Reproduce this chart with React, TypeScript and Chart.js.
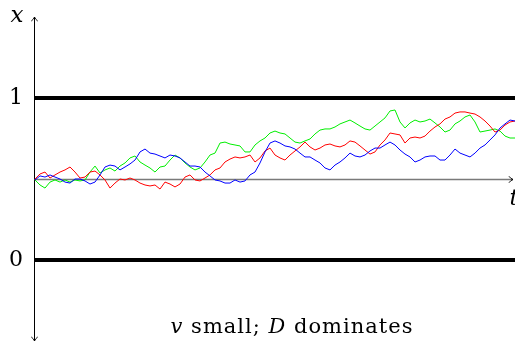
import React, { useEffect, useRef } from "react";
import { Chart, registerables } from "chart.js";

Chart.register(...registerables);

// time steps (unlabelled t axis), one sample per step
const timeSteps: number[] = Array.from({ length: 97 }, (_, i) => i);

const redPath: number[] = [
  0.5, 0.531, 0.543, 0.506, 0.525, 0.543, 0.556, 0.574, 0.543, 0.506,
  0.512, 0.543, 0.549, 0.525, 0.494, 0.444, 0.475, 0.5, 0.494, 0.506,
  0.494, 0.475, 0.463, 0.457, 0.463, 0.438, 0.481, 0.469, 0.451, 0.469,
  0.512, 0.525, 0.494, 0.488, 0.506, 0.525, 0.556, 0.568, 0.605, 0.623,
  0.636, 0.63, 0.636, 0.648, 0.605, 0.63, 0.673, 0.691, 0.648, 0.63,
  0.617, 0.648, 0.673, 0.698, 0.728, 0.698, 0.679, 0.691, 0.71, 0.716,
  0.704, 0.698, 0.71, 0.735, 0.728, 0.704, 0.679, 0.654, 0.667, 0.71,
  0.741, 0.784, 0.778, 0.772, 0.722, 0.753, 0.759, 0.753, 0.765, 0.796,
  0.821, 0.84, 0.87, 0.883, 0.907, 0.914, 0.914, 0.907, 0.901, 0.883,
  0.858, 0.827, 0.79, 0.802, 0.833, 0.852, 0.858,
];

const greenPath: number[] = [
  0.494, 0.463, 0.444, 0.481, 0.494, 0.481, 0.494, 0.481, 0.494, 0.488,
  0.494, 0.543, 0.58, 0.537, 0.556, 0.568, 0.549, 0.58, 0.599, 0.63,
  0.642, 0.605, 0.586, 0.568, 0.543, 0.574, 0.58, 0.617, 0.648, 0.63,
  0.599, 0.574, 0.556, 0.568, 0.605, 0.648, 0.66, 0.722, 0.728, 0.716,
  0.71, 0.704, 0.667, 0.667, 0.71, 0.735, 0.753, 0.784, 0.796, 0.784,
  0.778, 0.753, 0.728, 0.722, 0.735, 0.747, 0.778, 0.802, 0.809, 0.809,
  0.821, 0.84, 0.852, 0.864, 0.846, 0.827, 0.809, 0.802, 0.827, 0.852,
  0.877, 0.92, 0.926, 0.852, 0.815, 0.846, 0.864, 0.852, 0.858, 0.87,
  0.846, 0.821, 0.79, 0.802, 0.84, 0.858, 0.883, 0.895, 0.852, 0.79,
  0.796, 0.802, 0.809, 0.796, 0.765, 0.753, 0.753,
];

const bluePath: number[] = [
  0.494, 0.519, 0.512, 0.525, 0.512, 0.5, 0.481, 0.475, 0.5, 0.5,
  0.488, 0.469, 0.481, 0.525, 0.574, 0.586, 0.58, 0.556, 0.574, 0.593,
  0.617, 0.667, 0.685, 0.66, 0.654, 0.642, 0.63, 0.648, 0.642, 0.63,
  0.605, 0.58, 0.58, 0.574, 0.543, 0.519, 0.494, 0.488, 0.475, 0.475,
  0.494, 0.481, 0.488, 0.525, 0.543, 0.599, 0.667, 0.722, 0.735, 0.722,
  0.704, 0.698, 0.685, 0.66, 0.636, 0.636, 0.617, 0.599, 0.568, 0.556,
  0.586, 0.605, 0.63, 0.66, 0.642, 0.636, 0.648, 0.673, 0.691, 0.691,
  0.71, 0.728, 0.71, 0.679, 0.654, 0.636, 0.605, 0.617, 0.636, 0.642,
  0.642, 0.617, 0.617, 0.648, 0.685, 0.66, 0.648, 0.636, 0.66, 0.691,
  0.71, 0.741, 0.772, 0.815, 0.84, 0.864, 0.858,
];

const boundaryLevels: number[] = [0, 1];
const tAxisLevel = 0.5;
const yRange: number[] = [-0.5, 1.5];
const yTickLabels: string[] = ["0", "1"];
const axisLabelX = "x";
const axisLabelT = "t";
const captionParts: { text: string; italic: boolean }[] = [
  { text: "v", italic: true },
  { text: " small; ", italic: false },
  { text: "D", italic: true },
  { text: " dominates", italic: false },
];

const FAMILY = "DejaVu Serif";
const SERIF = `"${FAMILY}", serif`;

function arrowHead(ctx: CanvasRenderingContext2D, x: number, y: number, dir: "up" | "down" | "right") {
  const s = 4;
  ctx.beginPath();
  if (dir === "up") {
    ctx.moveTo(x - s * 0.8, y + s);
    ctx.quadraticCurveTo(x - 0.5, y + 2, x, y);
    ctx.quadraticCurveTo(x + 0.5, y + 2, x + s * 0.8, y + s);
  } else if (dir === "down") {
    ctx.moveTo(x - s * 0.8, y - s);
    ctx.quadraticCurveTo(x - 0.5, y - 2, x, y);
    ctx.quadraticCurveTo(x + 0.5, y - 2, x + s * 0.8, y - s);
  } else {
    ctx.moveTo(x - s, y - s * 0.8);
    ctx.quadraticCurveTo(x - 2, y - 0.5, x, y);
    ctx.quadraticCurveTo(x - 2, y + 0.5, x - s, y + s * 0.8);
  }
  ctx.stroke();
}

const axesPlugin = {
  id: "texAxes",
  beforeDatasetsDraw(chart: any) {
    const ctx: CanvasRenderingContext2D = chart.ctx;
    const xs = chart.scales.x;
    const ys = chart.scales.y;
    const area = chart.chartArea;
    const x0 = Math.round(xs.getPixelForValue(timeSteps[0])) - 0.5;
    const yTop = ys.getPixelForValue(yRange[1]);
    const yBot = ys.getPixelForValue(yRange[0]);
    const yMid = Math.round(ys.getPixelForValue(tAxisLevel)) + 0.5;
    ctx.save();
    ctx.strokeStyle = "#000";
    ctx.lineWidth = 1;
    ctx.beginPath();
    ctx.moveTo(x0, yTop);
    ctx.lineTo(x0, yBot);
    ctx.stroke();
    arrowHead(ctx, x0, yTop, "up");
    arrowHead(ctx, x0, yBot, "down");
    ctx.strokeStyle = "#7a7a7a";
    ctx.lineWidth = 1.4;
    ctx.beginPath();
    ctx.moveTo(x0, yMid);
    ctx.lineTo(area.right - 2, yMid);
    ctx.stroke();
    ctx.strokeStyle = "#000";
    ctx.lineWidth = 1;
    arrowHead(ctx, area.right - 2, yMid, "right");
    ctx.restore();
  },
  afterDraw(chart: any) {
    const ctx: CanvasRenderingContext2D = chart.ctx;
    const ys = chart.scales.y;
    const area = chart.chartArea;
    ctx.save();
    ctx.fillStyle = "#000";
    ctx.textAlign = "center";
    ctx.textBaseline = "middle";
    ctx.font = `22px ${SERIF}`;
    boundaryLevels.forEach((lv, i) => {
      ctx.fillText(yTickLabels[i], 16, ys.getPixelForValue(lv));
    });
    ctx.font = `italic 23px ${SERIF}`;
    ctx.fillText(axisLabelX, 17, ys.getPixelForValue(yRange[1]) - 1);
    ctx.fillText(axisLabelT, area.right - 1, ys.getPixelForValue(tAxisLevel) + 20);
    // caption
    ctx.textAlign = "left";
    ctx.textBaseline = "alphabetic";
    (ctx as any).letterSpacing = "1px";
    const fontFor = (it: boolean) => `${it ? "italic " : ""}21px ${SERIF}`;
    let total = 0;
    captionParts.forEach((p) => {
      ctx.font = fontFor(p.italic);
      total += ctx.measureText(p.text).width;
    });
    let cx = 292 - total / 2;
    captionParts.forEach((p) => {
      ctx.font = fontFor(p.italic);
      ctx.fillText(p.text, cx, 333);
      cx += ctx.measureText(p.text).width;
    });
    ctx.restore();
  },
};

export default function App() {
  const ref = useRef<HTMLCanvasElement | null>(null);
  useEffect(() => {
    let chart: Chart | null = null;
    let cancelled = false;
    const build = () => {
      if (cancelled || !ref.current) return;
      const first = timeSteps[0];
      const last = timeSteps[timeSteps.length - 1];
      const walk = (vals: number[]) => vals.map((v, i) => ({ x: timeSteps[i], y: v }));
      chart = new Chart(ref.current, {
        type: "line",
        data: {
          datasets: [
            ...boundaryLevels.map((lv) => ({
              data: [
                { x: first, y: lv },
                { x: last, y: lv },
              ],
              borderColor: "#000",
              borderWidth: 4,
              pointRadius: 0,
              order: 0,
            })),
            { data: walk(bluePath), borderColor: "#0000ff", borderWidth: 1, pointRadius: 0, order: 1 },
            { data: walk(redPath), borderColor: "#ff0000", borderWidth: 1, pointRadius: 0, order: 2 },
            { data: walk(greenPath), borderColor: "#00ee00", borderWidth: 1, pointRadius: 0, order: 3 },
          ],
        },
        options: {
          animation: false,
          responsive: false,
          devicePixelRatio: 1,
          layout: { padding: { left: 35, right: 0, top: 17, bottom: 4 } },
          plugins: { legend: { display: false }, tooltip: { enabled: false } },
          elements: { line: { tension: 0 } },
          scales: {
            x: { type: "linear", min: first, max: last, display: false },
            y: { type: "linear", min: yRange[0], max: yRange[1], display: false },
          },
        },
        plugins: [axesPlugin],
      });
    };
    const fonts = (document as any).fonts;
    if (fonts && fonts.load) {
      Promise.all([
        fonts.load(`20px "${FAMILY}"`),
        fonts.load(`italic 20px "${FAMILY}"`),
      ])
        .catch(() => null)
        .then(build);
    } else {
      build();
    }
    return () => {
      cancelled = true;
      if (chart) chart.destroy();
    };
  }, []);
  return (
    <div style={{ position: "fixed", left: 0, top: 0, width: 515, height: 345, background: "#fff" }}>
      <canvas ref={ref} width={515} height={345} style={{ width: 515, height: 345 }} />
    </div>
  );
}
